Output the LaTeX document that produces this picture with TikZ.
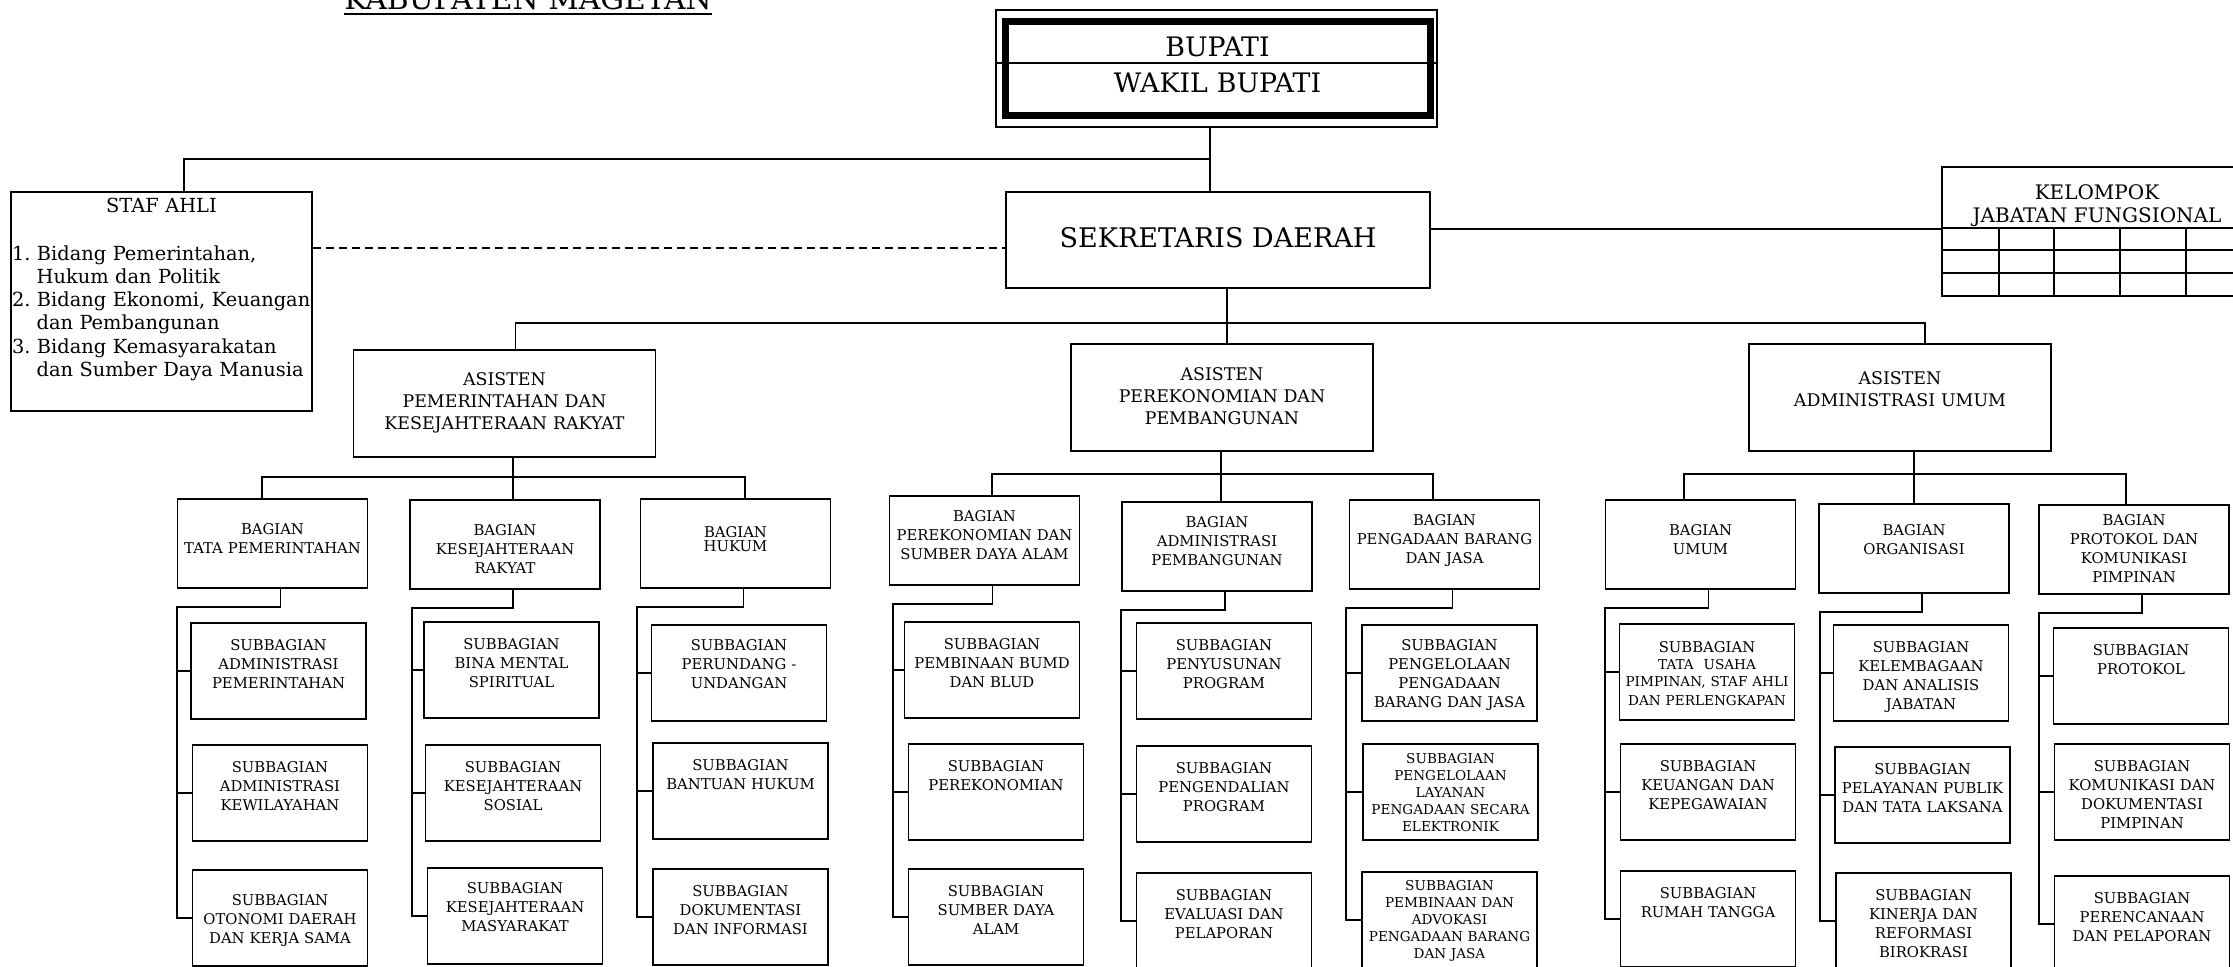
\documentclass[tikz,border=0pt]{standalone}
\usepackage{fontspec}
\setmainfont{DejaVu Serif}
\newcommand{\subfont}{\fontsize{7.4}{9.5}\selectfont}
\newcommand{\kecil}{\fontsize{6.8}{8.5}\selectfont}
\tikzset{
  kotak/.style={draw, line width=0.9pt, inner sep=0pt, align=center},
  sub/.style={kotak, anchor=north, text width=87.5pt, font=\subfont, text height=13.7pt, text depth=34.3pt},
  bag/.style={kotak, anchor=north, text width=95pt, font=\subfont, text height=17.7pt, text depth=26.8pt},
  asis/.style={kotak, anchor=north, text width=151pt, font=\fontsize{8.7}{11}\selectfont},
  conn/.style={line width=0.9pt},
}
\begin{document}
\begin{tikzpicture}[x=0.5pt, y=-0.5pt]
\useasboundingbox (0,0) rectangle (2233,966);
\clip (0,0) rectangle (2233,966);

% judul
\node[anchor=base, inner sep=0pt, font=\fontsize{14.9}{18}\selectfont] (judul) at (528,9.5) {KABUPATEN MAGETAN};
\draw[line width=0.85pt] ([yshift=-2.4pt]judul.base west) -- ([yshift=-2.4pt]judul.base east);

% bupati dan sekda
\node[draw, line width=0.6pt, minimum width=220.5pt, minimum height=58.5pt] (bingkai) at (1216.5,68.5) {};
\node[kotak, line width=3.5pt, text width=212.5pt, text height=17.75pt, text depth=29.25pt, font=\fontsize{13.4}{18}\selectfont] (bupati) at (1217.5,68) {BUPATI\\WAKIL BUPATI};
\coordinate (garis) at (0,63);
\draw[line width=0.6pt] (bingkai.west |- garis) -- (bingkai.east |- garis);
\node[draw, line width=0.9pt, minimum width=212pt, minimum height=48pt, text depth=3pt, font=\fontsize{13.5}{16}\selectfont] (sekda) at (1218,240) {SEKRETARIS DAERAH};

% staf ahli
\node[draw, line width=0.9pt, inner xsep=0.5pt, inner ysep=0pt, text width=149.5pt, text height=10pt, text depth=99.5pt, font=\fontsize{9.7}{11.65}\selectfont] (stafahli) at (161.5,301.5) {{\centering STAF AHLI\par}\vskip12.35pt
\mbox{1.~Bidang Pemerintahan,}\par
\mbox{\hspace{12.3pt}Hukum dan Politik}\par
\mbox{2.~Bidang Ekonomi, Keuangan}\par
\mbox{\hspace{12.3pt}dan Pembangunan}\par
\mbox{3.~Bidang Kemasyarakatan}\par
\mbox{\hspace{12.3pt}dan Sumber Daya Manusia}\par};

% kelompok jabatan fungsional
\node[kotak, text width=155pt, text height=16.15pt, text depth=48.35pt, font=\fontsize{10}{11.5}\selectfont] (kelompok) at (2097,231.5) {KELOMPOK\\JABATAN FUNGSIONAL};
\foreach \y in {228,250,273}
  \draw[conn] (kelompok.west |- 0,\y) -- (kelompok.east |- 0,\y);
\foreach \x in {1999,2054,2120,2186}
  \draw[conn] (\x,228) -- (kelompok.south -| \x,0);

% asisten
\node[asis, text height=17.65pt, text depth=35.85pt] (asis1) at (504.5,349) {ASISTEN\\PEMERINTAHAN DAN\\KESEJAHTERAAN RAKYAT};
\node[asis, text height=18.15pt, text depth=35.35pt] (asis2) at (1222,343) {ASISTEN\\PEREKONOMIAN DAN\\PEMBANGUNAN};
\node[asis, text height=20.15pt, text depth=33.35pt] (asis3) at (1900,343) {ASISTEN\\ADMINISTRASI UMUM};

% bagian
\node[bag] (tp) at (272.5,498) {BAGIAN\\TATA PEMERINTAHAN};
\node[bag] (ks) at (505,499) {BAGIAN\\KESEJAHTERAAN\\RAKYAT};
\node[bag, text height=19.2pt, text depth=25.3pt, font=\fontsize{7.4}{7}\selectfont] (hk) at (735.5,498) {BAGIAN\\HUKUM};
\node[bag, text height=12.7pt, text depth=31.8pt] (pe) at (984.5,495) {BAGIAN\\PEREKONOMIAN DAN\\SUMBER DAYA ALAM};
\node[bag, text height=12.7pt, text depth=31.8pt] (ap) at (1217,501) {BAGIAN\\ADMINISTRASI\\PEMBANGUNAN};
\node[bag, text height=12.7pt, text depth=31.8pt] (pb) at (1444.5,499) {BAGIAN\\PENGADAAN BARANG\\DAN JASA};
\node[bag] (um) at (1700.5,499) {BAGIAN\\UMUM};
\node[bag, text height=15.7pt, text depth=28.8pt] (or) at (1914,503) {BAGIAN\\ORGANISASI};
\node[bag, text height=10.2pt, text depth=34.3pt] (pk) at (2134,504) {BAGIAN\\PROTOKOL DAN\\KOMUNIKASI\\PIMPINAN};

% subbagian
\node[sub] (tp1) at (278.5,622) {SUBBAGIAN\\ADMINISTRASI\\PEMERINTAHAN};
\node[sub] (tp2) at (280,744) {SUBBAGIAN\\ADMINISTRASI\\KEWILAYAHAN};
\node[sub, text height=17.7pt, text depth=30.3pt] (tp3) at (280,869) {SUBBAGIAN\\OTONOMI DAERAH\\DAN KERJA SAMA};
\node[sub] (ks1) at (511.5,621) {SUBBAGIAN\\BINA MENTAL\\SPIRITUAL};
\node[sub] (ks2) at (513,744) {SUBBAGIAN\\KESEJAHTERAAN\\SOSIAL};
\node[sub, text height=12.7pt, text depth=35.3pt] (ks3) at (515,867) {SUBBAGIAN\\KESEJAHTERAAN\\MASYARAKAT};
\node[sub, text height=12.7pt, text depth=35.3pt] (hk1) at (739,624) {SUBBAGIAN\\PERUNDANG -\\UNDANGAN};
\node[sub] (hk2) at (740.5,742) {SUBBAGIAN\\BANTUAN HUKUM};
\node[sub] (hk3) at (740.5,868) {SUBBAGIAN\\DOKUMENTASI\\DAN INFORMASI};
\node[sub] (pe1) at (992,621) {SUBBAGIAN\\PEMBINAAN BUMD\\DAN BLUD};
\node[sub] (pe2) at (996,743) {SUBBAGIAN\\PEREKONOMIAN};
\node[sub] (pe3) at (996,868) {SUBBAGIAN\\SUMBER DAYA\\ALAM};
\node[sub] (ap1) at (1224,622) {SUBBAGIAN\\PENYUSUNAN\\PROGRAM};
\node[sub] (ap2) at (1224,745) {SUBBAGIAN\\PENGENDALIAN\\PROGRAM};
\node[sub] (ap3) at (1224,872) {SUBBAGIAN\\EVALUASI DAN\\PELAPORAN};
\node[sub, text height=12.7pt, text depth=35.3pt] (pb1) at (1449.5,624) {SUBBAGIAN\\PENGELOLAAN\\PENGADAAN\\BARANG DAN JASA};
\node[sub, font=\kecil, text height=10pt, text depth=38pt] (pb2) at (1450.5,743) {SUBBAGIAN\\PENGELOLAAN\\LAYANAN\\PENGADAAN SECARA\\ELEKTRONIK};
\node[sub, font=\kecil, text height=9.5pt, text depth=38.5pt] (pb3) at (1449.5,871) {SUBBAGIAN\\PEMBINAAN DAN\\ADVOKASI\\PENGADAAN BARANG\\DAN JASA};
\node[sub, text height=14.2pt, text depth=33.8pt] (um1) at (1707,623) {SUBBAGIAN\\\kecil TATA~~USAHA\\PIMPINAN, STAF AHLI\\DAN PERLENGKAPAN};
\node[sub] (um2) at (1708,743) {SUBBAGIAN\\KEUANGAN DAN\\KEPEGAWAIAN};
\node[sub] (um3) at (1708,870) {SUBBAGIAN\\RUMAH TANGGA};
\node[sub] (or1) at (1921,624) {SUBBAGIAN\\KELEMBAGAAN\\DAN ANALISIS\\JABATAN};
\node[sub] (or2) at (1922.5,746) {SUBBAGIAN\\PELAYANAN PUBLIK\\DAN TATA LAKSANA};
\node[sub] (or3) at (1923.5,872) {SUBBAGIAN\\KINERJA DAN\\REFORMASI\\BIROKRASI};
\node[sub] (pk1) at (2141,627) {SUBBAGIAN\\PROTOKOL};
\node[sub] (pk2) at (2142,743) {SUBBAGIAN\\KOMUNIKASI DAN\\DOKUMENTASI\\PIMPINAN};
\node[sub] (pk3) at (2142,875) {SUBBAGIAN\\PERENCANAAN\\DAN PELAPORAN};

% garis komando
\coordinate (jstaf) at (1210,159);
\draw[conn] (bingkai.south -| jstaf) -- (sekda.north -| jstaf);
\draw[conn] ([xshift=11.25pt]stafahli.north) |- (jstaf);
\draw[line width=0.7pt, dash pattern=on 4pt off 2.5pt] ([yshift=26.75pt]stafahli.east) -- ([yshift=26.75pt]stafahli.east -| sekda.west);
\draw[conn] ([yshift=5.5pt]sekda.east) -- ([yshift=5.5pt]sekda.east -| kelompok.west);

\coordinate (abar) at (1227,323);
\draw[conn] (sekda.south -| abar) -- (asis2.north -| abar);
\draw[conn] ([xshift=5.5pt]asis1.north) |- (abar) -| ([xshift=12.5pt]asis3.north);

\coordinate (bar1) at (513,477);
\draw[conn] (asis1.south -| bar1) -- (ks.north -| bar1);
\draw[conn] ([xshift=-5.25pt]tp.north) |- (bar1) -| ([xshift=4.75pt]hk.north);
\coordinate (bar2) at (1221,474);
\draw[conn] (asis2.south -| bar2) -- (ap.north -| bar2);
\draw[conn] ([xshift=3.75pt]pe.north) |- (bar2) -| ([xshift=-5.75pt]pb.north);
\coordinate (bar3) at (1914,474);
\draw[conn] (asis3.south -| bar3) -- (or.north -| bar3);
\draw[conn] ([xshift=-8.25pt]um.north) |- (bar3) -| ([xshift=-4pt]pk.north);

\foreach \b in {tp,ks,hk,pe,ap,pb,um,or,pk}{
  \draw[conn] ([xshift=4pt]\b.south) -- ++(0pt,-9.25pt) -| ([xshift=-7.5pt]\b3.west) -- (\b3.west);
  \draw[conn] ([xshift=-7.5pt]\b3.west) |- (\b1.west);
  \draw[conn] ([xshift=-7.5pt]\b3.west) |- (\b2.west);
}
\end{tikzpicture}
\end{document}
